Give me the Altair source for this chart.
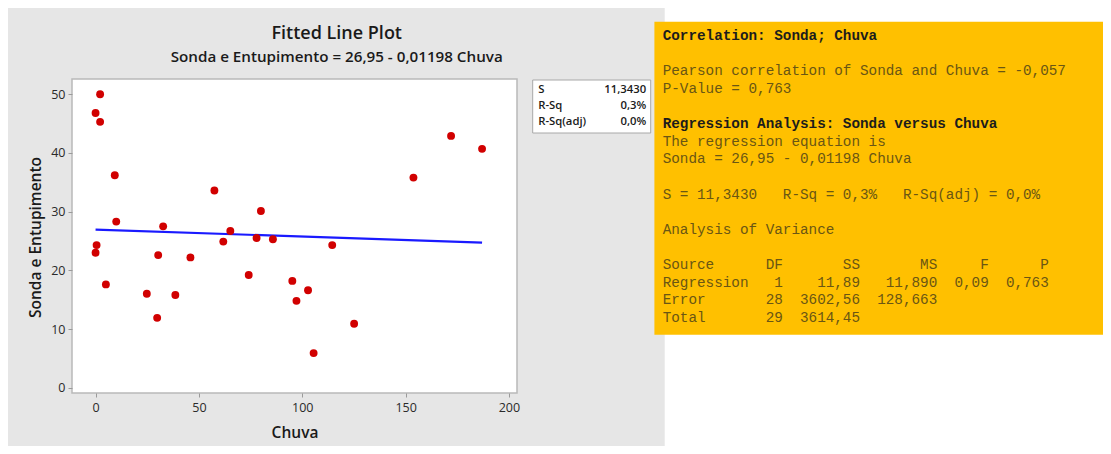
import altair as alt
import pandas as pd

# ---- data ----
chuva = [2.2, 0.0, 2.2, 9.3, 10.0, 0.5, 0.0, 5.0, 24.8, 29.8, 30.3, 32.7, 38.6, 45.9, 57.5,
         61.8, 65.2, 74.1, 77.9, 80.0, 85.8, 95.2, 97.2, 102.8, 105.5, 114.5, 125.1, 153.8, 172.0, 187.0]
sonda = [50.0, 46.8, 45.3, 36.2, 28.3, 24.3, 23.0, 17.6, 16.0, 11.9, 22.6, 27.5, 15.8, 22.2, 33.6,
         24.9, 26.7, 19.2, 25.5, 30.1, 25.3, 18.2, 14.8, 16.6, 5.9, 24.3, 10.9, 35.8, 42.9, 40.7]
intercept = 26.95
slope = -0.01198

x_ticks = [0, 50, 100, 150, 200]
y_ticks = [0, 10, 20, 30, 40, 50]

title_text = "Fitted Line Plot"
subtitle_text = "Sonda e Entupimento = 26,95 - 0,01198 Chuva"
x_title = "Chuva"
y_title = "Sonda e Entupimento"

stat_labels = ["S", "R-Sq", "R-Sq(adj)"]
stat_values = ["11,3430", "0,3%", "0,0%"]

report_lines = [
    "Correlation: Sonda; Chuva",
    "",
    "Pearson correlation of Sonda and Chuva = -0,057",
    "P-Value = 0,763",
    "",
    "Regression Analysis: Sonda versus Chuva",
    "The regression equation is",
    "Sonda = 26,95 - 0,01198 Chuva",
    "",
    "S = 11,3430   R-Sq = 0,3%   R-Sq(adj) = 0,0%",
    "",
    "Analysis of Variance",
    "",
    "Source      DF       SS       MS     F      P",
    "Regression   1    11,89   11,890  0,09  0,763",
    "Error       28  3602,56  128,663",
    "Total       29  3614,45",
]
bold_lines = [0, 5]

# ---- layout (pixels, relative to the plot area) ----
W, H = 445, 314
FONT = "Open Sans"
MONO = "Liberation Mono"

pts = pd.DataFrame({"Chuva": chuva, "Sonda": sonda})
xmin, xmax = min(chuva), max(chuva)
fit = pd.DataFrame({"Chuva": [xmin, xmax],
                    "Sonda": [intercept + slope * xmin, intercept + slope * xmax]})

xs = alt.Scale(domain=[-11.4, 203.9], nice=False, zero=False)
ys = alt.Scale(domain=[-0.9, 52.6], nice=False, zero=False)

one = alt.Data(values=[{"k": 1}])

panel = alt.Chart(one).mark_rect(color="#e6e6e6").encode(
    x=alt.value(-65.6), x2=alt.value(592.7), y=alt.value(-75.7), y2=alt.value(380))
orange = alt.Chart(one).mark_rect(color="#ffc000").encode(
    x=alt.value(582.4), x2=alt.value(1045), y=alt.value(-57.3), y2=alt.value(255.7))
white = alt.Chart(one).mark_rect(color="white").encode(
    x=alt.value(0), x2=alt.value(W), y=alt.value(0), y2=alt.value(H))
frame = alt.Chart(one).mark_rect(fill=None, stroke="#b9b9b9", strokeWidth=1.5).encode(
    x=alt.value(0), x2=alt.value(W), y=alt.value(0), y2=alt.value(H))

base_axes = alt.Chart(pts).mark_point(opacity=0).encode(
    x=alt.X("Chuva:Q", scale=xs, axis=alt.Axis(
        values=x_ticks, title=x_title, domain=False, grid=False, tickColor="#9a9a9a",
        tickSize=4, labelFont=FONT, labelFontSize=12.5, labelColor="#2a2a2a", labelPadding=4,
        titleFont=FONT, titleFontSize=15.5, titleFontWeight=600, titleColor="#1a1a1a",
        titleY=39, titleBaseline="middle", zindex=1)),
    y=alt.Y("Sonda:Q", scale=ys, axis=alt.Axis(
        values=y_ticks, title=y_title, domain=False, grid=False, tickColor="#9a9a9a",
        tickSize=4, labelFont=FONT, labelFontSize=12.5, labelColor="#2a2a2a", labelPadding=3,
        titleFont=FONT, titleFontSize=15.5, titleFontWeight=600, titleColor="#1a1a1a",
        titleX=-37, titleY=H / 2 + 1, titleBaseline="middle", titleAngle=-90, zindex=1)),
)

dots = alt.Chart(pts).mark_circle(color="#d10000", size=62, opacity=1).encode(
    x=alt.X("Chuva:Q", scale=xs), y=alt.Y("Sonda:Q", scale=ys))
line = alt.Chart(fit).mark_line(color="#1a1aff", strokeWidth=2.2).encode(
    x=alt.X("Chuva:Q", scale=xs), y=alt.Y("Sonda:Q", scale=ys))

title = alt.Chart(one).mark_text(font=FONT, fontSize=18, fontWeight=600, color="#1a1a1a",
                                 baseline="middle", align="center").encode(
    x=alt.value(264.7), y=alt.value(-45.5), text=alt.value(title_text))
subtitle = alt.Chart(one).mark_text(font=FONT, fontSize=15.2, fontWeight=600, color="#1a1a1a",
                                    baseline="middle", align="center").encode(
    x=alt.value(264.7), y=alt.value(-22), text=alt.value(subtitle_text))

# stats box
sbox = alt.Chart(one).mark_rect(fill="white", stroke="#a8a8a8", strokeWidth=1).encode(
    x=alt.value(460.7), x2=alt.value(578.7), y=alt.value(1), y2=alt.value(54))
sdf = pd.DataFrame({"lab": stat_labels, "val": stat_values, "row": range(len(stat_labels))})
sdf["py"] = 11 + 16 * sdf["row"]
slab = alt.Chart(sdf).mark_text(font=FONT, fontSize=11.3, fontWeight=600, color="#1a1a1a",
                                align="left", baseline="middle").encode(
    x=alt.value(466.2), y=alt.Y("py:Q", scale=None), text="lab:N")
sval = alt.Chart(sdf).mark_text(font=FONT, fontSize=11.3, fontWeight=600, color="#1a1a1a",
                                align="right", baseline="middle").encode(
    x=alt.value(574.2), y=alt.Y("py:Q", scale=None), text="val:N")

# report text
rdf = pd.DataFrame({"txt": [s.replace(" ", "\u00a0") for s in report_lines],
                    "row": range(len(report_lines))})
rdf["bold"] = rdf["row"].isin(bold_lines)
rdf["py"] = -43.3 + 17.65 * rdf["row"]
rdf = rdf[rdf["txt"] != ""]
rep_norm = alt.Chart(rdf[~rdf["bold"]]).mark_text(
    font=MONO, fontSize=14.3, color="#6a5614", align="left", baseline="middle").encode(
    x=alt.value(590.7), y=alt.Y("py:Q", scale=None), text="txt:N")
rep_bold = alt.Chart(rdf[rdf["bold"]]).mark_text(
    font=MONO, fontSize=14.3, fontWeight="bold", color="#1c1c1c", align="left",
    baseline="middle").encode(
    x=alt.value(590.7), y=alt.Y("py:Q", scale=None), text="txt:N")

chart = alt.layer(
    panel, orange, white, base_axes, line, dots, frame, title, subtitle,
    sbox, slab, sval, rep_norm, rep_bold
).properties(
    width=W, height=H,
    padding={"left": 64, "top": 71, "right": 586, "bottom": 53},
    autosize=alt.AutoSizeParams(type="none"),
    background="white",
).configure_view(strokeWidth=0)

chart.save("out.html", embed_options={"renderer": "svg", "actions": False})
